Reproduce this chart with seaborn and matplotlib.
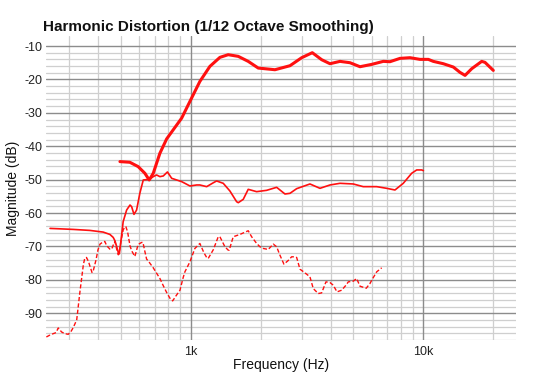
import numpy as np
import pandas as pd
import matplotlib
matplotlib.use("Agg")
import matplotlib.pyplot as plt
import seaborn as sns
from matplotlib.ticker import FixedLocator, FixedFormatter, NullFormatter

# ---------------- data ----------------
fund_freq = [497, 548, 595, 636, 664, 691, 738, 789, 915, 993, 1096, 1210, 1336, 1450,
             1602, 1768, 1952, 2303, 2672, 3000, 3332, 3656, 3969, 4382, 4837, 5341,
             5996, 6725, 7186, 7934, 8760, 9670, 10500, 11030, 12180, 13450, 14370,
             15100, 16130, 17810, 18400, 19970]
fund_db = [-44.6, -44.8, -46.1, -48.1, -50.1, -48.1, -42.1, -37.8, -31.6, -26.6, -20.6,
           -16.1, -13.4, -12.6, -13.1, -14.6, -16.6, -17.1, -15.9, -13.5, -12.0, -14.1,
           -15.3, -14.6, -15.0, -16.2, -15.5, -14.6, -14.7, -13.7, -13.5, -14.0, -14.0,
           -14.6, -15.3, -16.3, -17.9, -18.8, -16.8, -14.6, -14.9, -17.3]

h2_freq = [249, 313, 369, 421, 450, 465, 473, 481, 489, 494, 505, 513, 531, 549, 558,
           571, 586, 605, 626, 647, 669, 691, 714, 738, 763, 795, 829, 871, 915, 945,
           993, 1061, 1096, 1172, 1247, 1293, 1381, 1475, 1576, 1602, 1683, 1768, 1921,
           2121, 2342, 2543, 2672, 2855, 3256, 3595, 3969, 4382, 4996, 5516, 6301,
           6956, 7551, 8196, 8906, 9359, 9833, 10000]
h2_db = [-64.6, -64.9, -65.2, -65.7, -66.4, -67.3, -68.3, -70.0, -71.8, -72.2, -66.8,
         -62.6, -59.1, -57.6, -58.1, -60.4, -59.1, -54.1, -50.1, -50.0, -49.8, -49.1,
         -48.6, -49.1, -48.9, -47.7, -49.6, -50.1, -50.6, -51.1, -51.9, -51.6, -51.6,
         -52.1, -51.0, -50.4, -51.1, -53.4, -56.6, -56.9, -55.9, -52.9, -53.6, -53.2,
         -52.3, -54.3, -54.1, -52.7, -51.3, -52.6, -51.6, -51.1, -51.3, -52.1, -52.1,
         -52.6, -53.1, -51.1, -48.1, -47.1, -47.1, -47.3]

h3_freq = [240, 249, 257, 264, 270, 279, 288, 298, 306, 313, 324, 329, 334, 346, 351,
           357, 364, 369, 377, 381, 392, 400, 408, 421, 428, 436, 443, 450, 458, 465,
           473, 481, 489, 493, 505, 513, 522, 527, 536, 549, 558, 576, 595, 616, 624,
           636, 647, 657, 691, 738, 760, 789, 815, 837, 871, 900, 929, 945, 993, 1043,
           1096, 1141, 1172, 1190, 1251, 1314, 1336, 1404, 1450, 1465, 1524, 1629,
           1768, 1829, 1921, 1986, 2051, 2155, 2265, 2342, 2419, 2517, 2627, 2716,
           2807, 2855, 2949, 3151, 3256, 3364, 3535, 3656, 3815, 3969, 4101, 4254,
           4456, 4664, 4757, 4996, 5168, 5341, 5682, 5894, 6012, 6301, 6620]
h3_db = [-97.1, -96.5, -96.1, -95.8, -94.4, -95.6, -96.1, -96.3, -95.5, -94.3, -92.0,
         -88.0, -84.0, -75.5, -73.5, -73.3, -74.5, -75.8, -77.8, -77.5, -74.1, -71.0,
         -69.3, -68.6, -68.5, -69.8, -70.3, -70.8, -70.8, -69.6, -68.5, -70.8, -72.5,
         -71.8, -67.5, -65.1, -64.1, -64.1, -65.6, -69.8, -71.3, -73.0, -69.4, -68.8,
         -68.8, -71.5, -73.8, -74.3, -76.4, -79.6, -81.5, -83.8, -85.5, -86.3, -84.5,
         -83.1, -79.3, -77.6, -74.6, -70.6, -69.1, -71.9, -73.3, -73.6, -71.0, -67.1,
         -67.1, -70.1, -71.1, -71.1, -67.1, -66.4, -65.3, -67.1, -69.1, -70.1, -70.6,
         -70.9, -69.3, -70.1, -72.6, -75.3, -74.2, -73.1, -73.1, -73.3, -76.8, -78.3,
         -79.1, -82.6, -84.1, -83.9, -80.6, -80.8, -81.6, -83.6, -83.1, -81.5, -80.6,
         -80.4, -79.6, -81.9, -82.5, -81.1, -80.0, -77.6, -76.4]

x_major = [1000, 10000]
x_major_labels = ["1k", "10k"]
x_minor = [300, 400, 500, 600, 700, 800, 900, 2000, 3000, 4000, 5000, 6000, 7000,
           8000, 9000, 20000]
y_major = [-90, -80, -70, -60, -50, -40, -30, -20, -10]
y_major_labels = ["-90", "-80", "-70", "-60", "-50", "-40", "-30", "-20", "-10"]
y_minor = [v for v in range(-98, -9, 2) if v % 10 != 0]

# ---------------- styling ----------------
sns.set_theme(style="white")
plt.rcParams["font.family"] = ["Liberation Sans", "DejaVu Sans"]
plt.rcParams["axes.unicode_minus"] = False

fig = plt.figure(figsize=(5.49, 3.80), dpi=100)
ax = fig.add_axes([0.0829, 0.1053, 0.857, 0.800])

df_f = pd.DataFrame({"freq": fund_freq, "db": fund_db})
df_2 = pd.DataFrame({"freq": h2_freq, "db": h2_db})
df_3 = pd.DataFrame({"freq": h3_freq, "db": h3_db})

red = "#ff1010"
sns.lineplot(data=df_3, x="freq", y="db", ax=ax, color=red, linewidth=1.0,
             estimator=None, sort=False, linestyle=(0, (3.0, 1.6)), zorder=3)
sns.lineplot(data=df_2, x="freq", y="db", ax=ax, color=red, linewidth=1.2,
             estimator=None, sort=False, zorder=4)
sns.lineplot(data=df_f, x="freq", y="db", ax=ax, color=red, linewidth=2.2,
             estimator=None, sort=False, zorder=5)

ax.set_xscale("log")
ax.set_xlim(238, 25000)
ax.set_ylim(-98, -7)

ax.xaxis.set_major_locator(FixedLocator(x_major))
ax.xaxis.set_major_formatter(FixedFormatter(x_major_labels))
ax.xaxis.set_minor_locator(FixedLocator(x_minor))
ax.xaxis.set_minor_formatter(NullFormatter())
ax.yaxis.set_major_locator(FixedLocator(y_major))
ax.yaxis.set_major_formatter(FixedFormatter(y_major_labels))
ax.yaxis.set_minor_locator(FixedLocator(y_minor))

# light minor grid from the axes; darker major grid drawn on top of it
ax.set_axisbelow(True)
ax.grid(which="minor", color="#cfcfcf", linewidth=0.9, linestyle="-")
ax.grid(which="major", visible=False)
for v in y_major:
    ax.axhline(v, color="#8c8c8c", linewidth=1.0, zorder=1)
for v in x_major:
    ax.axvline(v, color="#8c8c8c", linewidth=1.0, zorder=1)

for s in ax.spines.values():
    s.set_visible(False)
ax.tick_params(which="both", length=0)
ax.tick_params(axis="y", labelsize=9, pad=2.5, colors="#222222")
ax.tick_params(axis="x", labelsize=9, pad=4, colors="#222222")
ax.set_xlabel("")
ax.set_ylabel("")

fig.text(43 / 549, 1 - 31 / 380, "Harmonic Distortion (1/12 Octave Smoothing)",
         fontsize=11, fontweight="bold", ha="left", va="baseline", color="#111111")
fig.text(281 / 549, 1 - 365 / 380, "Frequency (Hz)", fontsize=10, ha="center",
         va="center", color="#111111")
fig.text(13 / 549, 1 - 188 / 380, "Magnitude (dB)", fontsize=10, rotation=90,
         ha="center", va="center", color="#111111")

fig.savefig("out.png", dpi=100)
